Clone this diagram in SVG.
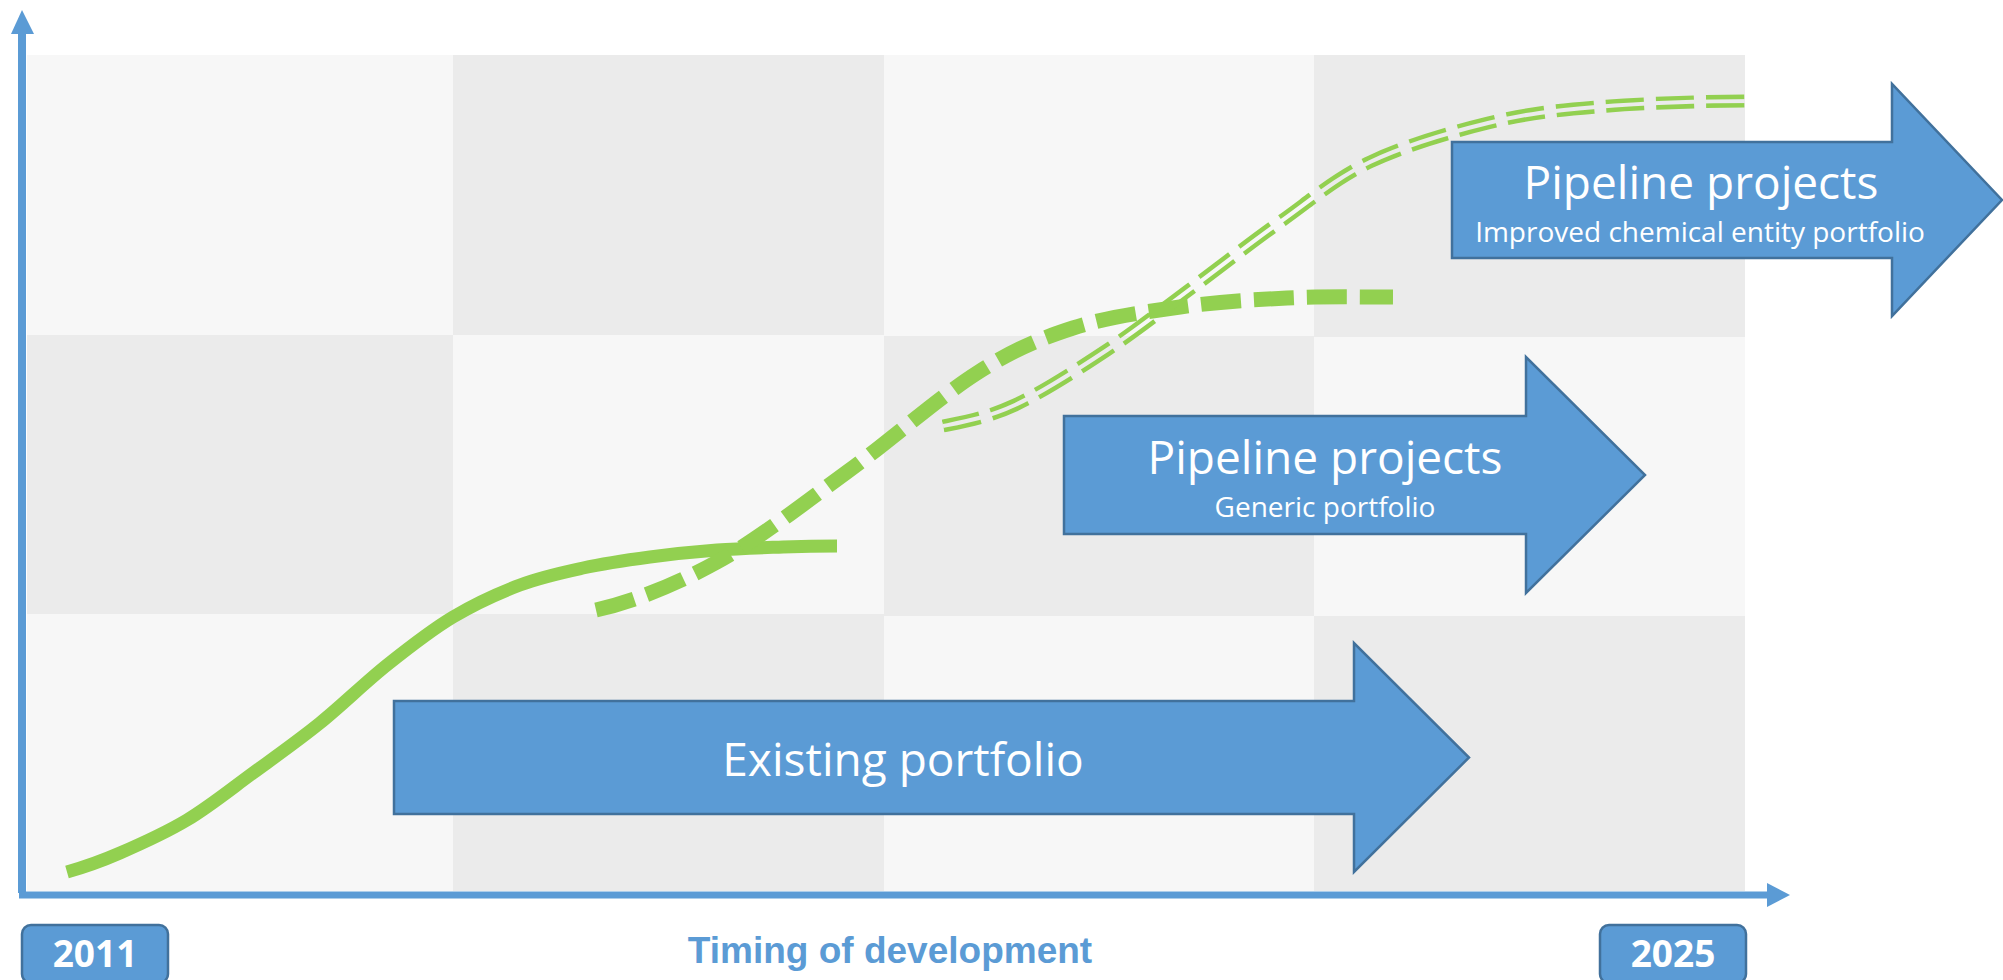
<svg xmlns="http://www.w3.org/2000/svg" xmlns:xlink="http://www.w3.org/1999/xlink" width="2003" height="980" viewBox="0 0 2003 980">
  <style>
    .light { fill: #F7F7F7; }
    .dark { fill: #EBEBEB; }
    .arrow { fill: #5B9BD5; stroke: #41719C; stroke-width: 2.5; stroke-linejoin: miter; }
    .big { font-family: "Open Sans", "Noto Sans", sans-serif; font-size: 46px; fill: #FFFFFF; text-anchor: middle; }
    .sub { font-family: "Open Sans", "Noto Sans", sans-serif; font-size: 28px; fill: #FFFFFF; text-anchor: middle; }
    .year { fill: #5B9BD5; stroke: #41719C; stroke-width: 2.5; }
    .yeartext { font-family: "Open Sans", "Noto Sans", sans-serif; font-weight: bold; font-size: 37px; fill: #FFFFFF; text-anchor: middle; }
    .axislabel { font-family: "Liberation Sans", Arial, sans-serif; font-weight: bold; font-size: 37px; fill: #5B9BD5; text-anchor: middle; }
    .axis { stroke: #5B9BD5; fill: none; }
    .axishead { fill: #5B9BD5; }
    .curve { fill: none; stroke: #92D050; stroke-linecap: butt; }
  </style>
  <defs>
    <path id="dblPath" d="M943,426 C963,422 987.7,417.7 1015,405 C1042.3,392.3 1077.3,369.7 1107,350 C1136.7,330.3 1164.2,308.3 1193,287 C1221.8,265.7 1250.5,242.8 1280,222 C1309.5,201.2 1335.3,178.5 1370,162 C1404.7,145.5 1450.3,132.2 1488,123 C1525.7,113.8 1551.3,110.7 1596,107 C1640.7,103.3 1702.7,101 1756,101"/>
    <mask id="dblMask" maskUnits="userSpaceOnUse" x="0" y="0" width="2003" height="980">
      <use xlink:href="#dblPath" href="#dblPath" fill="none" stroke="#FFFFFF" stroke-width="16"/>
      <use xlink:href="#dblPath" href="#dblPath" fill="none" stroke="#000000" stroke-width="4"/>
    </mask>
  </defs>

  <rect x="0" y="0" width="2003" height="980" fill="#FFFFFF"/>

  <g id="grid">
    <rect class="light" x="27" y="55" width="426" height="280"/>
    <rect class="dark" x="453" y="55" width="431" height="280"/>
    <rect class="light" x="884" y="55" width="430" height="281"/>
    <rect class="dark" x="1314" y="55" width="431" height="282"/>
    <rect class="dark" x="27" y="335" width="426" height="279"/>
    <rect class="light" x="453" y="335" width="431" height="279"/>
    <rect class="dark" x="884" y="336" width="430" height="280"/>
    <rect class="light" x="1314" y="337" width="431" height="279"/>
    <rect class="light" x="27" y="614" width="426" height="277"/>
    <rect class="dark" x="453" y="614" width="431" height="277"/>
    <rect class="light" x="884" y="616" width="430" height="275"/>
    <rect class="dark" x="1314" y="616" width="431" height="275"/>
  </g>

  <g id="axes">
    <line class="axis" x1="22" y1="893" x2="22" y2="30" stroke-width="8"/>
    <polygon class="axishead" points="22,10 34,34 11,34"/>
    <line class="axis" x1="19" y1="895" x2="1770" y2="895" stroke-width="7"/>
    <polygon class="axishead" points="1790,895 1767,883 1767,907"/>
  </g>

  <g id="node-existing">
    <polygon class="arrow" points="394,701 1354,701 1354,643 1469,757.5 1354,872 1354,814 394,814"/>
    <text class="big" x="903" y="776">Existing portfolio</text>
  </g>

  <g id="node-generic">
    <polygon class="arrow" points="1064,416 1526,416 1526,357 1645,475 1526,593 1526,534 1064,534"/>
    <text class="big" x="1325" y="474">Pipeline projects</text>
    <text class="sub" x="1325" y="517">Generic portfolio</text>
  </g>

  <g id="node-improved">
    <polygon class="arrow" points="1452,142 1892,142 1892,84 2002,200 1892,316 1892,258 1452,258"/>
    <text class="big" x="1701" y="199">Pipeline projects</text>
    <text class="sub" x="1700" y="242">Improved chemical entity portfolio</text>
  </g>

  <g id="connectors">
    <path id="curve-existing" class="curve" stroke-width="13" d="M67,872 C84.7,867 100,861.7 120,853 C140,844.3 164.8,833.3 187,820 C209.2,806.7 230.8,789.2 253,773 C275.2,756.8 297.7,741 320,723 C342.3,705 364.8,682.7 387,665 C409.2,647.3 430.8,630.3 453,617 C475.2,603.7 498.3,593.2 520,585 C541.7,576.8 561.3,572.7 583,568 C604.7,563.3 627.7,560 650,557 C672.3,554 694.8,551.7 717,550 C739.2,548.3 763,547.7 783,547 C803,546.3 819,546 837,546"/>
    <path id="curve-generic" class="curve" stroke-width="15" stroke-dasharray="40 13" d="M596,610 C632.7,601.7 675.2,585 717,562 C758.8,539 803.7,503.5 847,472 C890.3,440.5 939.3,397 977,373 C1014.7,349 1039.2,339 1073,328 C1106.8,317 1144.3,312 1180,307 C1215.7,302 1251.5,299.7 1287,298 C1322.5,296.3 1357.7,297 1393,297"/>
    <use id="curve-improved" xlink:href="#dblPath" href="#dblPath" class="curve" stroke-width="13" stroke-dasharray="38 12" mask="url(#dblMask)"/>
  </g>

  <g id="label-2011">
    <rect class="year" x="22" y="925" width="146" height="58" rx="9"/>
    <text class="yeartext" x="95" y="967">2011</text>
  </g>
  <g id="label-2025">
    <rect class="year" x="1600" y="925" width="146" height="58" rx="9"/>
    <text class="yeartext" x="1673" y="967">2025</text>
  </g>
  <g id="label-axis">
    <text class="axislabel" x="890" y="963">Timing of development</text>
  </g>
</svg>
